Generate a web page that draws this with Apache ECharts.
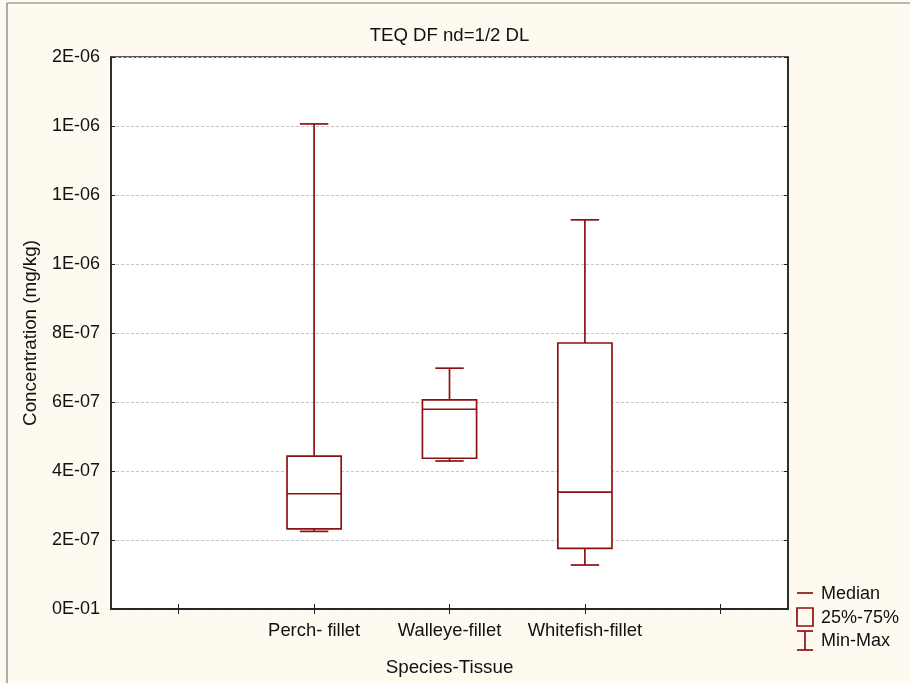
<!DOCTYPE html>
<html>
<head>
<meta charset="utf-8">
<script src="https://cdn.jsdelivr.net/npm/echarts@6/dist/echarts.min.js"></script>
<style>
html,body{margin:0;padding:0;background:#FFFAEF;}
#chart{width:910px;height:683px;}
</style>
</head>
<body>
<div id="chart"></div>
<script>
// ---- data ----
const categories = ['Perch- fillet', 'Walleye-fillet', 'Whitefish-fillet'];
const minValues    = [2.25e-7, 4.29e-7, 1.275e-7];
const q1Values     = [2.32e-7, 4.37e-7, 1.76e-7];
const medianValues = [3.34e-7, 5.79e-7, 3.39e-7];
const q3Values     = [4.43e-7, 6.06e-7, 7.71e-7];
const maxValues    = [1.406e-6, 6.98e-7, 1.128e-6];
const yMin = 0, yMax = 1.6e-6, yInterval = 2e-7;
const legendLabels = ['Median', '25%-75%', 'Min-Max'];
const titleText = 'TEQ DF nd=1/2 DL';
const xName = 'Species-Tissue';
const yName = 'Concentration (mg/kg)';

const axisCats = [''].concat(categories, ['']);
const boxData = categories.map((c, i) => [i + 1, minValues[i], q1Values[i], medianValues[i], q3Values[i], maxValues[i]]);

const RED = '#8E1111';
const FONT = '"Liberation Sans", Arial, sans-serif';

function fmtY(v) {
  if (v === 0) return '0E-01';
  const s = v.toExponential(0); // e.g. "2e-7"
  const m = s.split('e');
  const exp = parseInt(m[1], 10);
  const sign = exp < 0 ? '-' : '+';
  const a = Math.abs(exp);
  return m[0] + 'E' + sign + (a < 10 ? '0' + a : a);
}

function renderItem(params, api) {
  const x = api.value(0);
  const pMin = api.coord([x, api.value(1)]);
  const pQ1 = api.coord([x, api.value(2)]);
  const pMed = api.coord([x, api.value(3)]);
  const pQ3 = api.coord([x, api.value(4)]);
  const pMax = api.coord([x, api.value(5)]);
  const band = api.size([1, 0])[0];
  const bw = band * 0.40;
  const cw = band * 0.21;
  const cx = pMed[0];
  const st = { stroke: RED, lineWidth: 1.7, fill: null };
  return {
    type: 'group',
    children: [
      { type: 'line', shape: { x1: cx, y1: pQ3[1], x2: cx, y2: pMax[1] }, style: st },
      { type: 'line', shape: { x1: cx - cw / 2, y1: pMax[1], x2: cx + cw / 2, y2: pMax[1] }, style: st },
      { type: 'line', shape: { x1: cx, y1: pQ1[1], x2: cx, y2: pMin[1] }, style: st },
      { type: 'line', shape: { x1: cx - cw / 2, y1: pMin[1], x2: cx + cw / 2, y2: pMin[1] }, style: st },
      { type: 'rect', shape: { x: cx - bw / 2, y: pQ3[1], width: bw, height: pQ1[1] - pQ3[1] }, style: { stroke: RED, lineWidth: 1.7, fill: '#fff' } },
      { type: 'line', shape: { x1: cx - bw / 2, y1: pMed[1], x2: cx + bw / 2, y2: pMed[1] }, style: st }
    ]
  };
}

const chart = echarts.init(document.getElementById('chart'));
const lx = 797, ly = 593, lstep = 24;
chart.setOption({
  backgroundColor: '#FFFAEF',
  animation: false,
  title: {
    text: titleText,
    left: 449.5,
    top: 26,
    padding: 0,
    textAlign: 'center',
    textStyle: { fontFamily: FONT, fontSize: 18.6, fontWeight: 'normal', color: '#111' }
  },
  grid: {
    left: 111, right: 122, top: 57, bottom: 74,
    show: true, backgroundColor: '#ffffff', borderColor: '#222', borderWidth: 1.5
  },
  xAxis: [{
    type: 'category',
    data: axisCats,
    position: 'bottom',
    name: xName,
    nameLocation: 'middle',
    nameGap: 49,
    nameTextStyle: { fontFamily: FONT, fontSize: 18.8, color: '#111' },
    axisLine: { lineStyle: { color: '#222', width: 1.5 } },
    axisTick: { show: true, inside: true, alignWithLabel: true, length: 5, lineStyle: { color: '#222' } },
    axisLabel: { interval: 0, margin: 13, fontFamily: FONT, fontSize: 18.4, color: '#111' },
    splitLine: { show: false }
  }, {
    type: 'category',
    data: axisCats,
    position: 'top',
    axisLine: { lineStyle: { color: '#222', width: 1.5 } },
    axisTick: { show: true, inside: true, alignWithLabel: true, length: 5, lineStyle: { color: '#222' } },
    axisLabel: { show: false },
    splitLine: { show: false }
  }],
  yAxis: [{
    type: 'value',
    min: yMin, max: yMax, interval: yInterval,
    position: 'left',
    name: yName,
    nameLocation: 'middle',
    nameRotate: 90,
    nameGap: 71,
    nameTextStyle: { fontFamily: FONT, fontSize: 18.8, color: '#111' },
    axisLine: { show: true, lineStyle: { color: '#222', width: 1.5 } },
    axisTick: { show: true, inside: true, length: 4, lineStyle: { color: '#222' } },
    axisLabel: { margin: 11, formatter: fmtY, fontFamily: FONT, fontSize: 18, color: '#111' },
    splitLine: { show: true, lineStyle: { color: '#c4c4c4', type: [3, 2], width: 1 } }
  }, {
    type: 'value',
    min: yMin, max: yMax, interval: yInterval,
    position: 'right',
    axisLine: { show: true, lineStyle: { color: '#222', width: 1.5 } },
    axisTick: { show: true, inside: true, length: 4, lineStyle: { color: '#222' } },
    axisLabel: { show: false },
    splitLine: { show: false }
  }],
  series: [{
    type: 'custom',
    name: 'box',
    xAxisIndex: 0,
    yAxisIndex: 0,
    renderItem: renderItem,
    encode: { x: 0, y: [1, 2, 3, 4, 5] },
    data: boxData,
    z: 3
  }],
  graphic: [
    // outer frame lines
    { type: 'line', shape: { x1: 7, y1: 3, x2: 910, y2: 3 }, style: { stroke: '#777', lineWidth: 1.2 } },
    { type: 'line', shape: { x1: 7, y1: 3, x2: 7, y2: 683 }, style: { stroke: '#777', lineWidth: 1.2 } },
    // legend
    { type: 'line', shape: { x1: lx, y1: ly, x2: lx + 16, y2: ly }, style: { stroke: RED, lineWidth: 1.7 } },
    { type: 'text', x: lx + 24, y: ly + 1, style: { text: legendLabels[0], fontFamily: FONT, fontSize: 18, fill: '#111', verticalAlign: 'middle' } },
    { type: 'rect', shape: { x: lx, y: ly + 15, width: 16, height: 18 }, style: { stroke: RED, lineWidth: 1.7, fill: null } },
    { type: 'text', x: lx + 24, y: ly + lstep + 1, style: { text: legendLabels[1], fontFamily: FONT, fontSize: 18, fill: '#111', verticalAlign: 'middle' } },
    { type: 'line', shape: { x1: lx, y1: ly + 38, x2: lx + 16, y2: ly + 38 }, style: { stroke: RED, lineWidth: 1.7 } },
    { type: 'line', shape: { x1: lx + 8, y1: ly + 38, x2: lx + 8, y2: ly + 57 }, style: { stroke: RED, lineWidth: 1.7 } },
    { type: 'line', shape: { x1: lx, y1: ly + 57, x2: lx + 16, y2: ly + 57 }, style: { stroke: RED, lineWidth: 1.7 } },
    { type: 'text', x: lx + 24, y: ly + 2 * lstep, style: { text: legendLabels[2], fontFamily: FONT, fontSize: 18, fill: '#111', verticalAlign: 'middle' } }
  ]
});
</script>
</body>
</html>
